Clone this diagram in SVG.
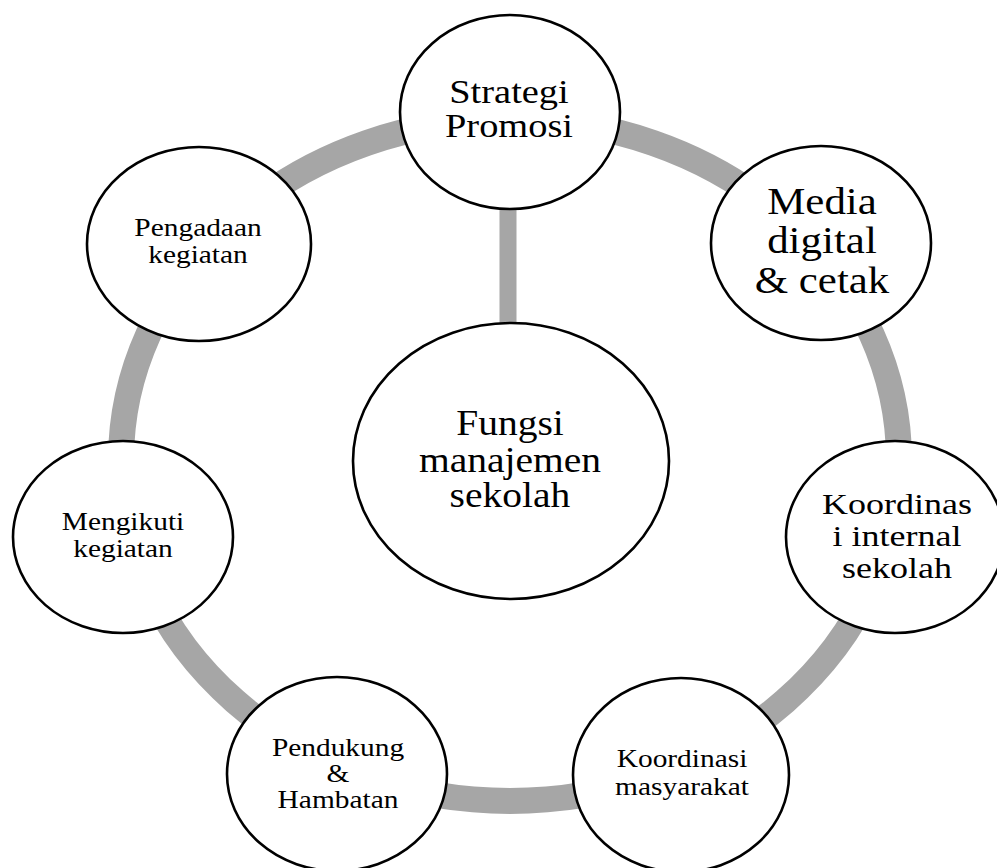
<svg xmlns="http://www.w3.org/2000/svg" width="997" height="868" viewBox="0 0 997 868">
  <style>
    .node { fill: #ffffff; stroke: #000000; stroke-width: 2.6; }
    .ring { fill: none; stroke: #a6a6a6; stroke-width: 26; }
    .link { stroke: #a6a6a6; stroke-width: 17; }
    text { font-family: "Liberation Serif", "Times New Roman", serif; fill: #000000; text-anchor: middle; }
    .big { font-size: 38px; }
    .mid { font-size: 34px; }
    .med { font-size: 29.5px; }
    .hub { font-size: 35px; }
    .small { font-size: 24.5px; }
  </style>
  <rect width="997" height="868" fill="#ffffff"/>

  <!-- connectors: the outer ring and the spoke to the hub -->
  <g id="connectors">
    <ellipse class="ring" cx="510" cy="460" rx="389" ry="341"/>
    <line class="link" x1="508" y1="205" x2="508" y2="328"/>
  </g>

  <g id="strategi-promosi">
    <ellipse class="node" cx="510" cy="112" rx="110" ry="97"/>
    <g transform="translate(509 0) scale(1.13 1)">
      <text class="mid" x="0" y="103">Strategi</text>
      <text class="mid" x="0" y="137">Promosi</text>
    </g>
  </g>

  <g id="media-digital-cetak">
    <ellipse class="node" cx="821" cy="243" rx="110" ry="97"/>
    <g transform="translate(822 0) scale(1.13 1)">
      <text class="big" x="0" y="214">Media</text>
      <text class="big" x="0" y="253">digital</text>
      <text class="big" x="0" y="293">&amp; cetak</text>
    </g>
  </g>

  <g id="koordinasi-internal">
    <ellipse class="node" cx="895" cy="537" rx="109" ry="96"/>
    <g transform="translate(897 0) scale(1.22 1)">
      <text class="med" x="0" y="514">Koordinas</text>
      <text class="med" x="0" y="546">i internal</text>
      <text class="med" x="0" y="578">sekolah</text>
    </g>
  </g>

  <g id="koordinasi-masyarakat">
    <ellipse class="node" cx="681" cy="775" rx="108" ry="97"/>
    <g transform="translate(682 0) scale(1.2 1)">
      <text class="small" x="0" y="767">Koordinasi</text>
      <text class="small" x="0" y="795">masyarakat</text>
    </g>
  </g>

  <g id="pendukung-hambatan">
    <ellipse class="node" cx="337" cy="774" rx="110" ry="97"/>
    <g transform="translate(338 0) scale(1.2 1)">
      <text class="small" x="0" y="756">Pendukung</text>
      <text class="small" x="0" y="782">&amp;</text>
      <text class="small" x="0" y="808">Hambatan</text>
    </g>
  </g>

  <g id="mengikuti-kegiatan">
    <ellipse class="node" cx="123" cy="537" rx="110" ry="96"/>
    <g transform="translate(123 0) scale(1.2 1)">
      <text class="small" x="0" y="530">Mengikuti</text>
      <text class="small" x="0" y="557">kegiatan</text>
    </g>
  </g>

  <g id="pengadaan-kegiatan">
    <ellipse class="node" cx="199" cy="244" rx="112" ry="97"/>
    <g transform="translate(198 0) scale(1.2 1)">
      <text class="small" x="0" y="236">Pengadaan</text>
      <text class="small" x="0" y="263">kegiatan</text>
    </g>
  </g>

  <g id="fungsi-manajemen">
    <ellipse class="node" cx="511" cy="461" rx="158" ry="138"/>
    <g transform="translate(510 0) scale(1.13 1)">
      <text class="hub" x="0" y="435">Fungsi</text>
      <text class="hub" x="0" y="472">manajemen</text>
      <text class="hub" x="0" y="507">sekolah</text>
    </g>
  </g>
</svg>
